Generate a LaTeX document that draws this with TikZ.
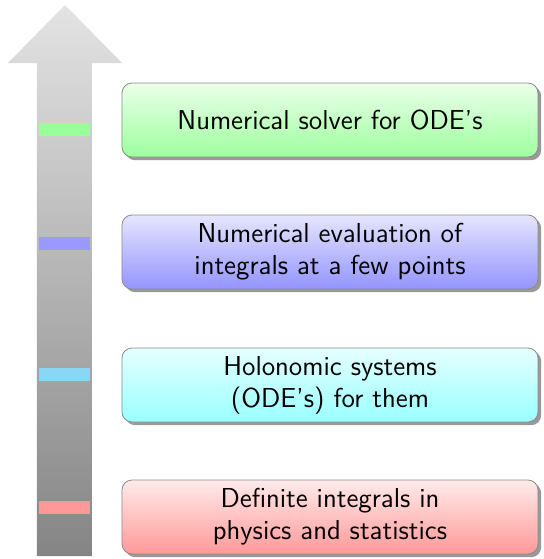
\documentclass[tikz,border=0pt]{standalone}
\usepackage{tikz}
\usetikzlibrary{shadows}
\definecolor{barcyan}{RGB}{138,214,245}
\tikzset{
	level/.style={draw=black!45, rounded corners=5pt, minimum width=208pt, minimum height=37pt,
		align=center, font=\sffamily\fontsize{13.7}{16}\selectfont,
		drop shadow={shadow xshift=1.6pt, shadow yshift=-1.6pt, fill=black!40, opacity=1}},
	bar/.style={inner sep=0pt, minimum width=25.5pt, minimum height=6.5pt}
}
\begin{document}
\begin{tikzpicture}[x=0.5pt,y=-0.5pt]
		\useasboundingbox (0,0) rectangle (543,559);
		% big arrow
		\shade[top color=black!11, bottom color=black!48] (37,556) -- (37,63) -- (8,63) -- (65,5)
			-- (122,63) -- (92,63) -- (92,556) -- cycle;
		% marks on the arrow
		\node[bar, fill=green!40] (m1) at (64.5,129.5) {};
		\node[bar, fill=blue!40] (m2) at (64.5,243.5) {};
		\node[bar, fill=barcyan] (m3) at (64.5,374.5) {};
		\node[bar, fill=red!40] (m4) at (64.5,507.5) {};
		% levels
		\node[level, top color=green!8, bottom color=green!38] (ode) at (330,120) {Numerical solver for ODE's};
		\node[level, top color=blue!10, bottom color=blue!42] (num) at (330,252) {Numerical evaluation of\\integrals at a few points};
		\node[level, top color=cyan!10, bottom color=cyan!40] (hol) at (330,385) {Holonomic systems\\(ODE's) for them};
		\node[level, top color=red!8, bottom color=red!40] (def) at (330,517) {Definite integrals in\\physics and statistics};
	\end{tikzpicture}
\end{document}
